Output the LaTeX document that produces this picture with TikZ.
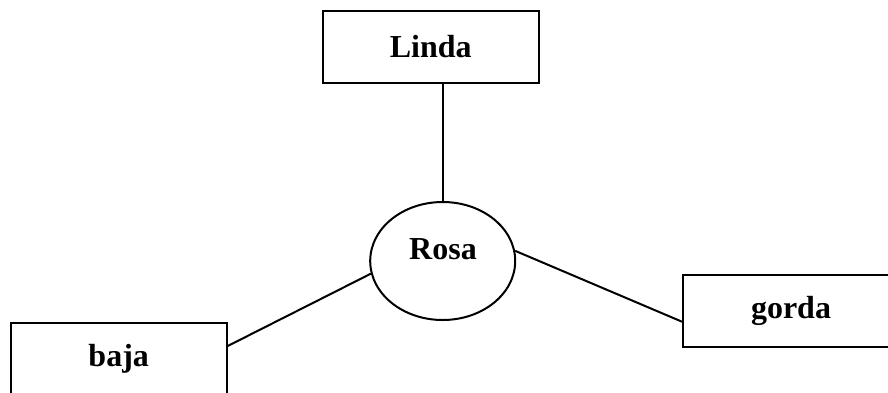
\documentclass[tikz,border=0pt]{standalone}
\usepackage{fontspec}
\setmainfont{Liberation Serif}
\usetikzlibrary{shapes.geometric}
\begin{document}
\begin{tikzpicture}[x=1pt,y=-1pt,
  every node/.style={font=\fontsize{32}{37}\selectfont\bfseries},
  wordbox/.style={draw,line width=2pt,rectangle,minimum width=216pt,minimum height=72pt,inner sep=0pt},
  hub/.style={draw,line width=2pt,ellipse,minimum width=145pt,minimum height=118pt,inner sep=0pt},
  link/.style={line width=2pt}]
\useasboundingbox (0,0) rectangle (888,392);
\clip (0,0) rectangle (888,392);
\fill[white] (0,0) rectangle (888,392);
\node[wordbox] (linda) at (430.7,46.5) {Linda};
\node[hub] (rosa) at (442.7,261) {};
\node (rosalabel) at (443,249) {Rosa};
\node[wordbox] (gorda) at (791,310.7) {gorda};
\node[wordbox] (baja) at (118.7,358.7) {baja};
\draw[link] (linda.south -| rosa.north) -- (rosa.north);
\draw[link] (rosa.8.6) -- ([yshift=-11pt]gorda.west);
\draw[link] (rosa.190.5) -- ([yshift=12.7pt]baja.east);
\end{tikzpicture}
\end{document}
